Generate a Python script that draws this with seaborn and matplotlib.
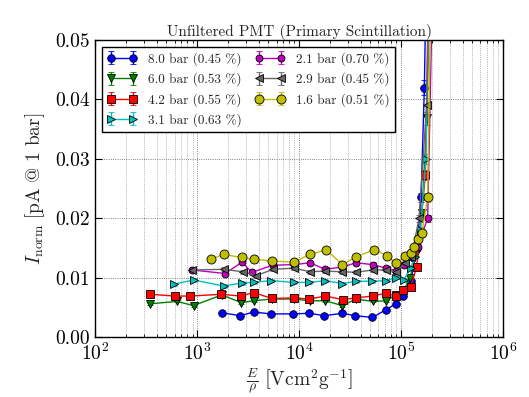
import numpy as np
import matplotlib
matplotlib.use("Agg")
import matplotlib.pyplot as plt
import seaborn as sns

# E/rho values and normalised currents
labels = ["8.0 bar (0.45 %)", "6.0 bar (0.53 %)", "4.2 bar (0.55 %)", "3.1 bar (0.63 %)",
          "2.1 bar (0.70 %)", "2.9 bar (0.45 %)", "1.6 bar (0.51 %)"]

e_80 = [1745, 2640, 3570, 5310, 8790, 12530, 17700, 26600, 35400, 52400, 70800, 88700,
        105000, 125000, 142000, 157000, 169000, 180000]
i_80 = [0.0041, 0.0036, 0.0042, 0.0039, 0.0039, 0.0040, 0.0036, 0.0040, 0.0036, 0.0033, 0.0046, 0.0056,
        0.0069, 0.0095, 0.0150, 0.0235, 0.0420, 0.0700]

e_60 = [346, 632, 921, 1745, 2700, 3570, 5400, 8930, 12800, 18000, 26600, 36000, 52800, 70800, 88700,
        105000, 122000, 140000, 160000, 179000, 195000]
i_60 = [0.0056, 0.0060, 0.0053, 0.0071, 0.0058, 0.0061, 0.0064, 0.0064, 0.0061, 0.0061, 0.0053, 0.0064,
        0.0060, 0.0061, 0.0071, 0.0078, 0.0099, 0.0140, 0.0209, 0.0368, 0.0700]

e_42 = [346, 608, 853, 1718, 2700, 3570, 5400, 8930, 12530, 18000, 26800, 36000, 52800, 70800, 88700,
        105000, 124000, 142000, 173000, 190000]
i_42 = [0.0072, 0.0069, 0.0069, 0.0072, 0.0069, 0.0075, 0.0065, 0.0066, 0.0064, 0.0069, 0.0063, 0.0066,
        0.0069, 0.0074, 0.0069, 0.0079, 0.0085, 0.0118, 0.0273, 0.0700]

e_31 = [586, 921, 1812, 2740, 3570, 5310, 8930, 12530, 18000, 26600, 36000, 52400, 70800, 88700,
        106000, 124000, 137000, 155000, 175000, 195000]
i_31 = [0.0089, 0.0096, 0.0086, 0.0091, 0.0092, 0.0095, 0.0092, 0.0092, 0.0095, 0.0090, 0.0094, 0.0094,
        0.0095, 0.0100, 0.0096, 0.0116, 0.0135, 0.0180, 0.0300, 0.0700]

e_21 = [887, 1880, 2740, 3440, 5520, 8930, 12800, 18000, 26600, 36000, 53000, 70800, 88700,
        106000, 128000, 145000, 182000, 210000]
i_21 = [0.0113, 0.0107, 0.0126, 0.0109, 0.0121, 0.0122, 0.0125, 0.0114, 0.0118, 0.0125, 0.0122, 0.0116,
        0.0112, 0.0122, 0.0135, 0.0152, 0.0200, 0.0700]

e_29 = [887, 1812, 2800, 3760, 5520, 8930, 12800, 18000, 26600, 36000, 53000, 70800, 88700,
        110000, 126000, 150000, 178000, 195000]
i_29 = [0.0113, 0.0114, 0.0110, 0.0103, 0.0114, 0.0116, 0.0110, 0.0111, 0.0110, 0.0109, 0.0113, 0.0113,
        0.0110, 0.0125, 0.0134, 0.0200, 0.0390, 0.0700]

e_16 = [1360, 1812, 2740, 3620, 5460, 8930, 12650, 18400, 26600, 36000, 54500, 72800, 89000,
        110000, 126000, 134000, 147000, 160000, 182000, 200000]
i_16 = [0.0131, 0.0139, 0.0134, 0.0131, 0.0128, 0.0126, 0.0139, 0.0147, 0.0122, 0.0135, 0.0147, 0.0137,
        0.0124, 0.0137, 0.0141, 0.0152, 0.0165, 0.0176, 0.0235, 0.0700]

series = [(e_80, i_80), (e_60, i_60), (e_42, i_42), (e_31, i_31),
          (e_21, i_21), (e_29, i_29), (e_16, i_16)]
colors = ["#0000ff", "#008000", "#ff0000", "#00bfbf", "#bf00bf", "#666666", "#bfbf00"]
markers = ["o", "v", "s", ">", "o", "<", "o"]
msizes = [5.5, 5.5, 5.5, 5.5, 5, 5.5, 6.5]

# classic look
sns.set_style("ticks")
plt.rcParams["font.family"] = "serif"
plt.rcParams["font.serif"] = ["cmr10", "DejaVu Serif"]
plt.rcParams["mathtext.fontset"] = "cm"
plt.rcParams["axes.formatter.use_mathtext"] = True
plt.rcParams["axes.unicode_minus"] = False
plt.rcParams["xtick.direction"] = "in"
plt.rcParams["ytick.direction"] = "in"
plt.rcParams["xtick.top"] = True
plt.rcParams["ytick.right"] = True

fig = plt.figure(figsize=(5.29, 3.97), dpi=100)
ax = fig.add_axes([0.18, 0.151, 0.771, 0.748])

for (e, i), lab, c, m, ms in zip(series, labels, colors, markers, msizes):
    e = np.array(e, dtype=float)
    i = np.array(i)
    ax.errorbar(e, i, yerr=0.03 * i, fmt=m, linestyle="-", color=c, mfc=c, mec="k",
                mew=0.6, ms=ms, lw=1.0, ecolor=c, elinewidth=1.0, capsize=2, label=lab)

ax.set_xscale("log")
ax.set_xlim(1e2, 1e6)
ax.set_ylim(0.0, 0.05)
ax.set_yticks([0.0, 0.01, 0.02, 0.03, 0.04, 0.05])
ax.set_yticklabels(["0.00", "0.01", "0.02", "0.03", "0.04", "0.05"])

ax.grid(True, which="major", axis="both", color="0.35", linestyle=":", linewidth=0.6)
ax.grid(True, which="minor", axis="x", color="0.5", linestyle=":", linewidth=0.5)
for s in ax.spines.values():
    s.set_color("k")
    s.set_linewidth(1.0)
ax.tick_params(which="major", length=5, labelsize=14, colors="k", pad=4)
ax.tick_params(which="minor", length=2.5, colors="k")

ax.set_title("Unfiltered PMT (Primary Scintillation)", fontsize=11, pad=3)
ax.set_xlabel(r"$\frac{E}{\rho}\ \left[\mathrm{Vcm^2g^{-1}}\right]$", fontsize=14, labelpad=2)
ax.set_ylabel(r"$I_{\mathrm{norm}}\ [\mathrm{pA\ @\ 1\ bar}]$", fontsize=14, labelpad=6)

leg = ax.legend(loc="upper left", ncol=2, fontsize=9.5, numpoints=2, fancybox=False,
                framealpha=1, edgecolor="k", columnspacing=1.0, handlelength=2.3,
                borderaxespad=0.5, labelspacing=0.5)
leg.get_frame().set_linewidth(1.0)

fig.savefig("out.png", dpi=100)
